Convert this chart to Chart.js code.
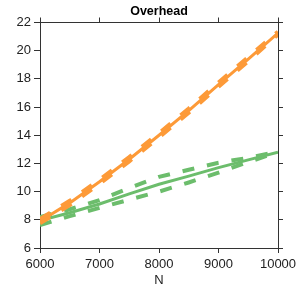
<!DOCTYPE html>
<html>
<head>
<meta charset="utf-8">
<script src="https://cdn.jsdelivr.net/npm/chart.js@4"></script>
<style>
  html, body { margin: 0; padding: 0; background: #fff; }
  #wrap { width: 307px; height: 288px; }
</style>
</head>
<body>
<div id="wrap"><canvas id="myChart" width="307" height="288"></canvas></div>
<script>
// values
const nValues = [6000, 6500, 7000, 7500, 8000, 8500, 9000, 9500, 10000];
const orangeMid = [7.9, 9.2, 10.7, 12.3, 14.0, 15.75, 17.6, 19.4, 21.25];
const orangeHigh = [8.05, 9.35, 10.85, 12.45, 14.15, 15.9, 17.75, 19.55, 21.35];
const orangeLow = [7.75, 9.05, 10.55, 12.15, 13.85, 15.6, 17.45, 19.25, 21.15];
const greenMid = [7.95, 8.5, 9.12, 9.84, 10.52, 11.1, 11.7, 12.25, 12.8];
const greenHigh = [8.2, 8.75, 9.4, 10.25, 11.05, 11.55, 12.05, 12.4, 12.85];
const greenLow = [7.62, 8.26, 8.85, 9.43, 10.0, 10.65, 11.35, 12.1, 12.8];
const xTicks = [6000, 7000, 8000, 9000, 10000];
const yTicks = [6, 8, 10, 12, 14, 16, 18, 20, 22];

const orange = '#fd9a38';
const green = '#6cbd6c';
const axisColor = '#333';
const font = "'Liberation Sans', Arial, sans-serif";

function pts(ys) {
  return nValues.map((n, i) => ({ x: n, y: ys[i] }));
}

function line(ys, color, dashed) {
  return {
    data: pts(ys),
    borderColor: color,
    backgroundColor: color,
    borderWidth: dashed ? 4 : 3,
    borderDash: dashed ? [12, 13] : [],
    pointRadius: 0,
    tension: 0,
    fill: false
  };
}

const ctx = document.getElementById('myChart').getContext('2d');
new Chart(ctx, {
  type: 'line',
  data: {
    datasets: [
      line(orangeHigh, orange, true),
      line(orangeLow, orange, true),
      line(orangeMid, orange, false),
      line(greenHigh, green, true),
      line(greenLow, green, true),
      line(greenMid, green, false)
    ]
  },
  options: {
    responsive: false,
    animation: false,
    layout: { padding: { left: 0, right: 24, top: 0, bottom: 0 } },
    plugins: {
      legend: { display: false },
      tooltip: { enabled: false },
      title: {
        display: true,
        text: 'Overhead',
        fullSize: false,
        color: '#000',
        font: { family: font, size: 12.5, weight: 'bold', lineHeight: 1 },
        padding: { top: 5, bottom: 0 }
      }
    },
    scales: {
      x: {
        type: 'linear',
        position: 'bottom',
        min: 6000,
        max: 10000,
        afterBuildTicks: s => { s.ticks = xTicks.map(v => ({ value: v })); },
        afterFit: s => { s.height = 40; },
        grid: { drawOnChartArea: false, drawTicks: true, tickLength: 5, color: axisColor },
        border: { color: axisColor, width: 1 },
        ticks: { color: '#222', font: { family: font, size: 13 }, padding: 4, maxRotation: 0, callback: v => String(v) },
        title: { display: true, text: 'N', color: '#222', font: { family: font, size: 13 }, padding: { top: 0, bottom: 0 } }
      },
      x2: {
        type: 'linear',
        position: 'top',
        min: 6000,
        max: 10000,
        afterBuildTicks: s => { s.ticks = xTicks.map(v => ({ value: v })); },
        afterFit: s => { s.height = 5; },
        grid: { drawOnChartArea: false, drawTicks: true, tickLength: 5, color: axisColor },
        border: { color: axisColor, width: 1 },
        ticks: { display: false }
      },
      y: {
        position: 'left',
        min: 6,
        max: 22,
        afterBuildTicks: s => { s.ticks = yTicks.map(v => ({ value: v })); },
        afterFit: s => { s.width = 40; },
        grid: { drawOnChartArea: false, drawTicks: true, tickLength: 6, color: axisColor },
        border: { color: axisColor, width: 1 },
        ticks: { color: '#222', font: { family: font, size: 13 }, padding: 3 }
      },
      y2: {
        position: 'right',
        min: 6,
        max: 22,
        afterBuildTicks: s => { s.ticks = yTicks.map(v => ({ value: v })); },
        afterFit: s => { s.width = 5; },
        grid: { drawOnChartArea: false, drawTicks: true, tickLength: 5, color: axisColor },
        border: { color: axisColor, width: 1 },
        ticks: { display: false }
      }
    }
  }
});
</script>
</body>
</html>
